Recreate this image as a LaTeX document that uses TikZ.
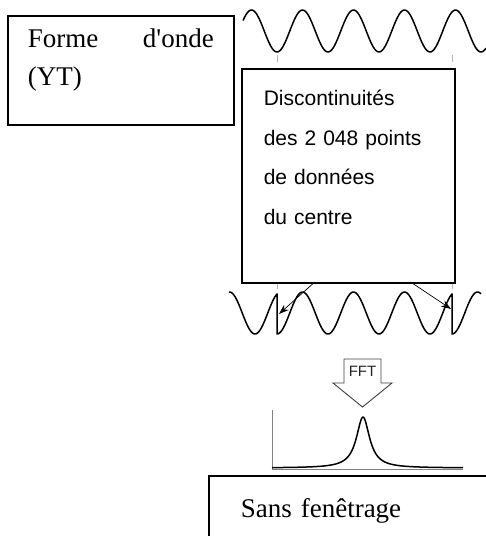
\documentclass[tikz,border=0pt]{standalone}
\usepackage{fontspec}
\setmainfont{Liberation Serif}[Ligatures=TeXOff]
\setsansfont{Liberation Sans}
\usetikzlibrary{arrows.meta,calc}

\begin{document}
\begin{tikzpicture}[
        x=1pt, y=-1pt,
        legendbox/.style= {
            draw, fill=white, line width=1.6pt, inner ysep=0pt, align=left
        },
        signal/.style = {
            line width=1.5pt, line join=round
        },
        marker/.style = {
            draw, gray!60, line width=0.8pt
        },
        pointer/.style = {
            draw, line width=0.7pt, -{Stealth[length=10pt,width=7pt]}
        },
        ]
    \useasboundingbox (0,0) rectangle (486,536);
    \clip (0,0) rectangle (486,536);
    \draw[signal] plot[domain=243:486, samples=160] (\x, {31+21*cos(7.0588*(\x-277))});
    \draw[marker] (277,55) -- (277,62) (452,55) -- (452,62);
    \draw[signal] plot[domain=229:277, samples=40] (\x, {313+21*cos(7.0588*(\x-102))})
        -- plot[domain=277:452, samples=140] (\x, {313+21*cos(7.0588*(\x-277))})
        -- plot[domain=452:481, samples=30] (\x, {313+21*cos(7.0588*(\x-452))});
    \draw[marker] (277,283) -- (277,289) (452,283) -- (452,289);
    \node[legendbox, anchor=north west, inner xsep=20pt, text width=186pt,
        text height=32pt, text depth=77pt, font=\fontsize{27}{38}\selectfont]
        (forme) at (7,15) {Forme \hfill d'onde\\(YT)};
    \node[legendbox, anchor=north west, inner xsep=22pt, text width=169pt,
        text height=37pt, text depth=177pt, font=\sffamily\fontsize{21}{39.5}\selectfont]
        (disc) at (241,68) {Discontinuités\\des 2 048 points\\de données\\du centre};
    \coordinate (jumpL) at (279,314);
    \coordinate (jumpR) at (451,309);
    \draw[pointer] ($(disc.south west)+(72,0)$) -- (jumpL);
    \draw[pointer] ($(disc.south west)+(172,0)$) -- (jumpR);
    \draw[gray!50!black, line width=0.9pt, fill=white] (344,359) -- (381,359) -- (381,383)
        -- (392,383) -- (362.5,407) -- (333,383) -- (344,383) -- cycle;
    \node[font=\sffamily\fontsize{15}{15}\selectfont, gray!30!black] (fft) at (362.5,371) {FFT};
    \draw[gray, line width=0.8pt] (272,410) -- (272,469) -- (463,469);
    \draw[signal] plot[domain=272:463, samples=220] (\x, {468-51/(1+((\x-363)/8)^2)});
    \node[legendbox, anchor=north west, inner xsep=32pt, text width=260pt,
        text height=42pt, text depth=40pt, font=\fontsize{27}{38}\selectfont]
        (sans) at (208,475) {Sans fenêtrage};
\end{tikzpicture}
\end{document}
